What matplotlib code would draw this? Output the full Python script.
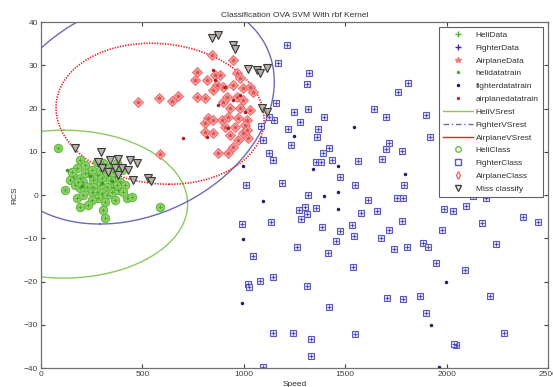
import numpy as np
import matplotlib
matplotlib.use("Agg")
import matplotlib.pyplot as plt
from matplotlib.lines import Line2D

plt.rcParams['font.family'] = ['Liberation Sans', 'DejaVu Sans']

# テストデータ (class markers drawn on the same points)
heli_x = [84, 192, 217, 178, 232, 158, 192, 143, 207, 256, 276, 301, 325, 340, 365, 390, 414,
          355, 325, 291, 256, 227, 192, 168, 118, 178, 207, 251, 276, 301, 325, 350, 380, 281,
          251, 232, 192, 316, 365, 424, 449, 306, 316, 587, 217, 251, 291, 340, 355, 399, 375,
          306, 276, 182, 153, 404, 375]
heli_y = [10.9, 8.1, 6.9, 6.2, 5.1, 4.2, 3.9, 3.5, 3.0, 3.5, 4.6, 3.9, 5.1, 3.5, 4.2, 3.0, 2.3,
          1.8, 1.8, 2.3, 1.8, 1.8, 1.6, 2.3, 1.2, -0.7, 0.0, 0.7, 0.7, 0.5, 0.0, 0.7, 1.2, -0.7,
          -1.2, -2.3, -2.8, -1.6, -1.2, -0.7, -0.5, -3.5, -5.3, -2.8, 5.1, 5.8, 5.8, 6.5, 5.3, 5.8, 7.4,
          7.4, 7.6, 3.0, 5.3, 0.7, 2.3]

fighter_x = [1213, 1169, 1322, 1312, 1810, 1760, 1159, 1317, 1248, 1642, 1701, 1898, 1395, 1277,
             1149, 1124, 1366, 1218, 1085, 1361, 1095, 1233, 1420, 1716, 1701, 1780, 1391, 1124,
             1144, 1435, 1356, 1381, 1563, 1681, 1474, 1011, 1188, 1548, 1790, 1317, 1612, 1755,
             1785, 1272, 1302, 1312, 1356, 1578, 1657, 991, 1134, 1282, 1780, 1386, 1474, 1534,
             1716, 1543, 1455, 1677, 1262, 1415, 1741, 1805, 1884, 1908, 1045, 1539, 1021, 1026,
             1080, 1144, 1312, 1706, 1785, 1869, 1420, 1898, 1144, 1243, 1331, 1548, 1331, 2046,
             1095, 2130, 2194, 1987, 2032, 2096, 2377, 2451, 2175, 1977, 2244, 1948, 2091, 2214,
             2283, 2037, 1918]
fighter_y = [34.7, 30.5, 28.2, 25.7, 25.9, 23.8, 21.3, 19.9, 19.2, 19.9, 18.0, 18.5, 18.0, 16.9,
             17.3, 18.0, 15.3, 15.3, 16.0, 13.4, 12.7, 11.6, 10.9, 12.0, 10.6, 10.2, 9.7, 9.7,
             8.1, 8.1, 7.6, 7.6, 7.9, 8.3, 4.2, 2.3, 2.8, 2.3, 2.3, 0.0, -1.2, -0.7,
             -0.7, -3.5, -2.8, -4.4, -3.0, -4.2, -3.7, -6.7, -6.2, -5.5, -6.0, -7.4, -8.3, -6.9,
             -8.1, -9.5, -10.6, -9.9, -12.0, -13.4, -12.5, -12.0, -11.1, -12.0, -14.1, -16.6, -20.6, -21.3,
             -19.9, -19.0, -21.0, -23.8, -24.0, -23.4, -25.9, -27.3, -31.9, -31.9, -33.3, -32.1, -37.2, -34.7,
             -39.8, -0.2, -0.7, -3.2, -3.7, -2.5, -5.1, -6.2, -6.5, -8.1, -11.3, -15.7, -17.3, -23.4,
             -31.9, -34.5, 13.4]

airplane_x = [478, 582, 646, 676, 769, 809, 843, 947, 769, 759, 819, 858, 883, 966, 981, 868, 848,
              897, 947, 996, 1031, 1045, 917, 966, 996, 897, 932, 981, 1031, 823, 809, 848, 893,
              922, 971, 1016, 907, 957, 1006, 809, 848, 932, 996, 1021, 873, 922, 947, 971, 1016,
              587]
airplane_y = [21.5, 22.4, 21.7, 22.9, 22.7, 22.4, 32.4, 31.2, 28.4, 26.6, 26.6, 27.7, 27.7, 28.2,
              27.1, 25.4, 24.3, 25.0, 25.4, 24.7, 25.0, 23.8, 22.7, 22.7, 22.0, 21.5, 20.1, 20.1,
              19.7, 17.8, 16.6, 17.3, 17.3, 18.0, 17.8, 17.3, 15.7, 15.7, 16.2, 14.6, 14.3, 13.9,
              14.3, 13.2, 9.7, 9.7, 11.1, 12.7, 15.0, 9.5]

# 学習データ
heli_train_x = [128, 240, 300, 350, 200]
heli_train_y = [5.8, 4.5, 2.8, 3.2, 2.0]
fighter_train_x = [1543, 1248, 1464, 1341, 1795, 1395, 1464, 996, 1095, 1464, 996, 991, 1997,
                   1923, 1962]
fighter_train_y = [15.7, 13.6, 6.7, 6.0, 4.9, -0.2, 0.7, 6.7, -1.4, -3.2, -10.2, -25.0, -20.1,
                   -30.1, -39.8]
airplane_train_x = [848, 858, 907, 947, 700, 819, 873, 981, 922, 1006]
airplane_train_y = [28.9, 26.6, 25.0, 22.0, 13.2, 13.4, 20.8, 23.1, 15.5, 19.2]

# 誤分類
miss_x = [843, 873, 947, 957, 1021, 1065, 1080, 1114, 1090, 1114, 168, 296, 281, 340, 380, 439,
          473, 301, 330, 365, 399, 429, 380, 454, 528, 542]
miss_y = [36.3, 37.0, 34.7, 33.8, 29.1, 28.9, 28.2, 29.4, 20.1, 19.2, 10.9, 9.9, 7.6, 8.1, 8.3, 8.1,
          7.4, 6.2, 5.3, 6.2, 6.2, 5.8, 4.6, 3.5, 3.9, 3.2]

# 境界 (楕円: 中心, 2つの共役半径ベクトル)
heli_bound = [(113, -2.1), (0, 17.1), (610, 0)]
fighter_bound = [(463, 19.6), (-173, -26.3), (665, 0)]
airplane_bound = [(587, 18.8), (44, -16.3), (511, 0)]

c_green = '#6cc04a'
c_blue = '#5858c0'
c_red = '#ee6a6a'

fig = plt.figure(figsize=(5.53, 3.87), dpi=100)
ax = fig.add_axes([0.0741, 0.049, 0.917, 0.894])

def boundary(b, **kw):
    t = np.linspace(0, 2 * np.pi, 500)
    (cx, cy), (ux, uy), (vx, vy) = b
    ax.plot(cx + ux * np.cos(t) + vx * np.sin(t), cy + uy * np.cos(t) + vy * np.sin(t), **kw)

boundary(heli_bound, color='#8cc860', lw=1.0)
boundary(fighter_bound, color='#6a6ab8', lw=1.0)
boundary(airplane_bound, color='#e82020', lw=1.2, ls=(0, (0.8, 0.8)))

# クラスマーカー
ax.plot(heli_x, heli_y, 'o', ms=6, mfc='#8fd06a', mec='#66bb44', mew=0.8)
ax.plot(heli_x, heli_y, '+', ms=3.5, color='#4caf30', mew=0.7)
ax.plot(fighter_x, fighter_y, 's', ms=5, mfc='#e2e2f6', mec=c_blue, mew=0.8)
ax.plot(fighter_x, fighter_y, '+', ms=3.2, color='#4040b0', mew=0.6)
ax.plot(airplane_x, airplane_y, 'D', ms=5, mfc='#f6a0a0', mec=c_red, mew=0.7)
ax.plot(airplane_x, airplane_y, '*', ms=3, color='#e05050', mew=0.5)

ax.plot(heli_train_x, heli_train_y, '.', ms=3, color='#3a9a20')
ax.plot(fighter_train_x, fighter_train_y, '.', ms=3, color='#202070')
ax.plot(airplane_train_x, airplane_train_y, '.', ms=3, color='#b02020')

ax.plot(miss_x, miss_y, 'v', ms=5.5, mfc='#b8b0a8', mec='#383838', mew=0.8)

ax.set_xlim(0, 2500)
ax.set_ylim(-40, 40)
ax.set_xticks(np.arange(0, 2501, 500))
ax.set_yticks(np.arange(-40, 41, 10))
ax.tick_params(direction='in', length=3, width=0.8, labelsize=6, colors='#404040',
               top=True, right=True, pad=2)
for s in ax.spines.values():
    s.set_color('#707070')
    s.set_linewidth(0.9)
ax.set_title('Classification OVA SVM With rbf Kernel', fontsize=6, color='#303030', pad=4)
ax.set_xlabel('Speed', fontsize=6, color='#303030', labelpad=2)
ax.set_ylabel('RCS', fontsize=6, color='#303030', labelpad=4)

handles = [
    Line2D([], [], ls='none', marker='+', color='#4caf30', ms=4),
    Line2D([], [], ls='none', marker='+', color='#3030a0', ms=4),
    Line2D([], [], ls='none', marker='*', color='#f08080', ms=4),
    Line2D([], [], ls='none', marker='.', color='#4caf30', ms=3),
    Line2D([], [], ls='none', marker='.', color='#202070', ms=3),
    Line2D([], [], ls='none', marker='.', color='#c03030', ms=3),
    Line2D([], [], color='#8cc860', lw=1),
    Line2D([], [], color='#6a6ab8', lw=1, ls=(0, (4, 2, 1, 2))),
    Line2D([], [], color='#e82020', lw=1),
    Line2D([], [], ls='none', marker='o', mfc='none', mec=c_green, ms=4),
    Line2D([], [], ls='none', marker='s', mfc='none', mec=c_blue, ms=4),
    Line2D([], [], ls='none', marker='d', mfc='none', mec=c_red, ms=4),
    Line2D([], [], ls='none', marker='v', mfc='none', mec='#404040', ms=4),
]
labels = ['HeliData', 'FighterData', 'AirplaneData', 'helidatatrain', 'fighterdatatrain',
          'airplanedatatrain', 'HeliVSrest', 'FighterVSrest', 'AirplaneVSrest', 'HeliClass',
          'FighterClass', 'AirplaneClass', 'Miss classify']
leg = ax.legend(handles, labels, loc='upper right', bbox_to_anchor=(0.99, 0.986), fontsize=6,
                labelspacing=0.6, handlelength=3.6, handletextpad=0.3, borderpad=0.5,
                borderaxespad=0.0, fancybox=False, framealpha=1, edgecolor='#606060', numpoints=1)
leg.get_frame().set_linewidth(0.8)
for t in leg.get_texts():
    t.set_color('#303030')

fig.savefig('out.png', dpi=100)
